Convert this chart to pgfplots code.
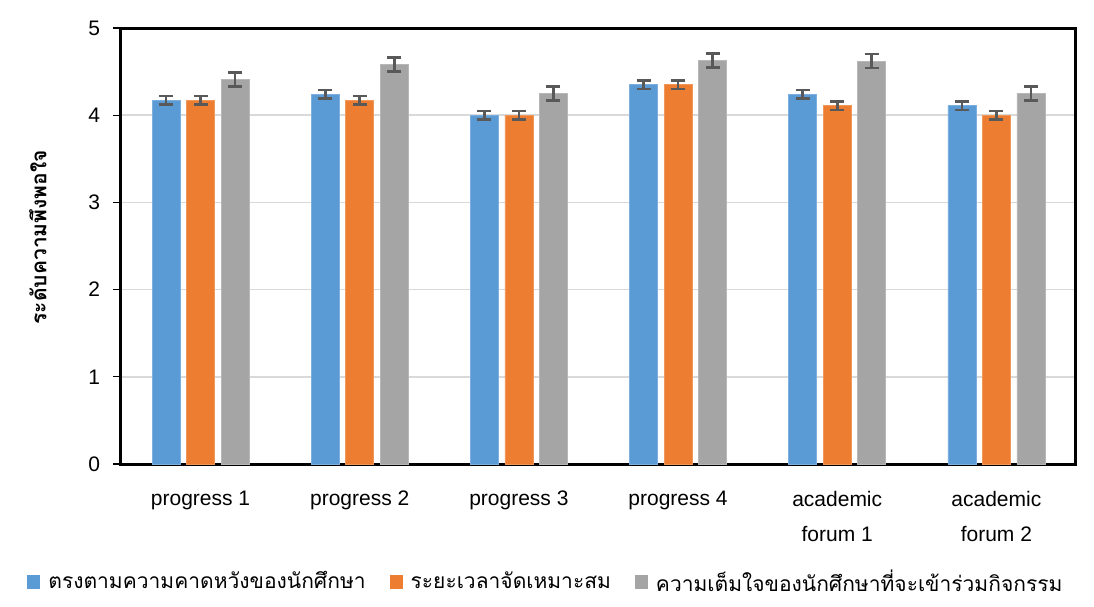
\documentclass[border=0pt]{standalone}
\usepackage{fontspec}
\setmainfont{Liberation Sans}
\newfontfamily\thaifont[Script=Thai]{Loma}
\usepackage{pgfplots}
\pgfplotsset{compat=1.18}
\definecolor{cblue}{RGB}{91,155,213}
\definecolor{corange}{RGB}{237,125,49}
\definecolor{cgray}{RGB}{165,165,165}
\definecolor{cerr}{RGB}{89,89,89}
\definecolor{cgrid}{RGB}{217,217,217}

% x, mean, error
\pgfplotstableread{
x y e
0 4.17 0.05
1 4.24 0.05
2 4.00 0.05
3 4.35 0.05
4 4.24 0.05
5 4.11 0.05
}\expect
\pgfplotstableread{
x y e
0 4.17 0.05
1 4.17 0.05
2 4.00 0.05
3 4.35 0.05
4 4.11 0.05
5 4.00 0.05
}\timing
\pgfplotstableread{
x y e
0 4.41 0.08
1 4.58 0.08
2 4.25 0.08
3 4.63 0.08
4 4.62 0.08
5 4.25 0.08
}\willing

\begin{document}
\begin{tikzpicture}
\begin{axis}[
    at={(0,0)}, anchor=south west,
    scale only axis,
    width=477.5pt, height=218pt,
    ybar=3.25pt, bar width=14pt,
    xmin=-0.5, xmax=5.5,
    ymin=0, ymax=5,
    ytick={0,1,2,3,4,5},
    xtick=data,
    xticklabels={progress 1, progress 2, progress 3, progress 4,
                 {academic\\forum 1}, {academic\\forum 2}},
    xticklabel style={align=center, font=\fontsize{10.5}{17.5}\selectfont, yshift=-6pt},
    yticklabel style={font=\fontsize{10.5}{12}\selectfont, xshift=-3pt},
    /pgf/number format/assume math mode=true,
    xtick style={draw=none},
    ytick pos=left, tick align=outside,
    major tick length=4pt,
    ytick style={black, line width=0.6pt},
    axis line style={line width=1.5pt},
    ymajorgrids=true,
    grid style={cgrid, line width=0.8pt},
    ylabel={\thaifont\bfseries ระดับความพึงพอใจ},
    ylabel style={at={(axis description cs:-0.087,0.52)}, anchor=center, font=\fontsize{10.5}{12}\selectfont},
    legend columns=3,
    legend style={at={(0.446,-0.27)}, anchor=center, draw=none,
        font=\thaifont\fontsize{10.5}{12}\selectfont,
        /tikz/every even column/.append style={column sep=10pt}},
    legend image code/.code={\fill[#1, draw=none] (0pt,-3.5pt) rectangle (6.5pt,3.5pt);
                             \path[draw=none, fill=none] (0pt,0pt) -- (8.5pt,0pt);},
    error bars/y dir=both, error bars/y explicit,
    error bars/error bar style={cerr, line width=1.3pt},
    error bars/error mark options={cerr, line width=1.3pt, mark size=3.5pt, rotate=90},
]
\addplot[fill=cblue, draw=cblue!80!white, line width=0.4pt] table[x=x, y=y, y error=e] {\expect};
\addlegendentry{ตรงตามความคาดหวังของนักศึกษา}
\addplot[fill=corange, draw=corange!80!white, line width=0.4pt] table[x=x, y=y, y error=e] {\timing};
\addlegendentry{ระยะเวลาจัดเหมาะสม}
\addplot[fill=cgray, draw=cgray!80!white, line width=0.4pt] table[x=x, y=y, y error=e] {\willing};
\addlegendentry{ความเต็มใจของนักศึกษาที่จะเข้าร่วมกิจกรรม}
\end{axis}
\useasboundingbox (-60.5pt,-71pt) rectangle (486.5pt,232pt);
\end{tikzpicture}
\end{document}
